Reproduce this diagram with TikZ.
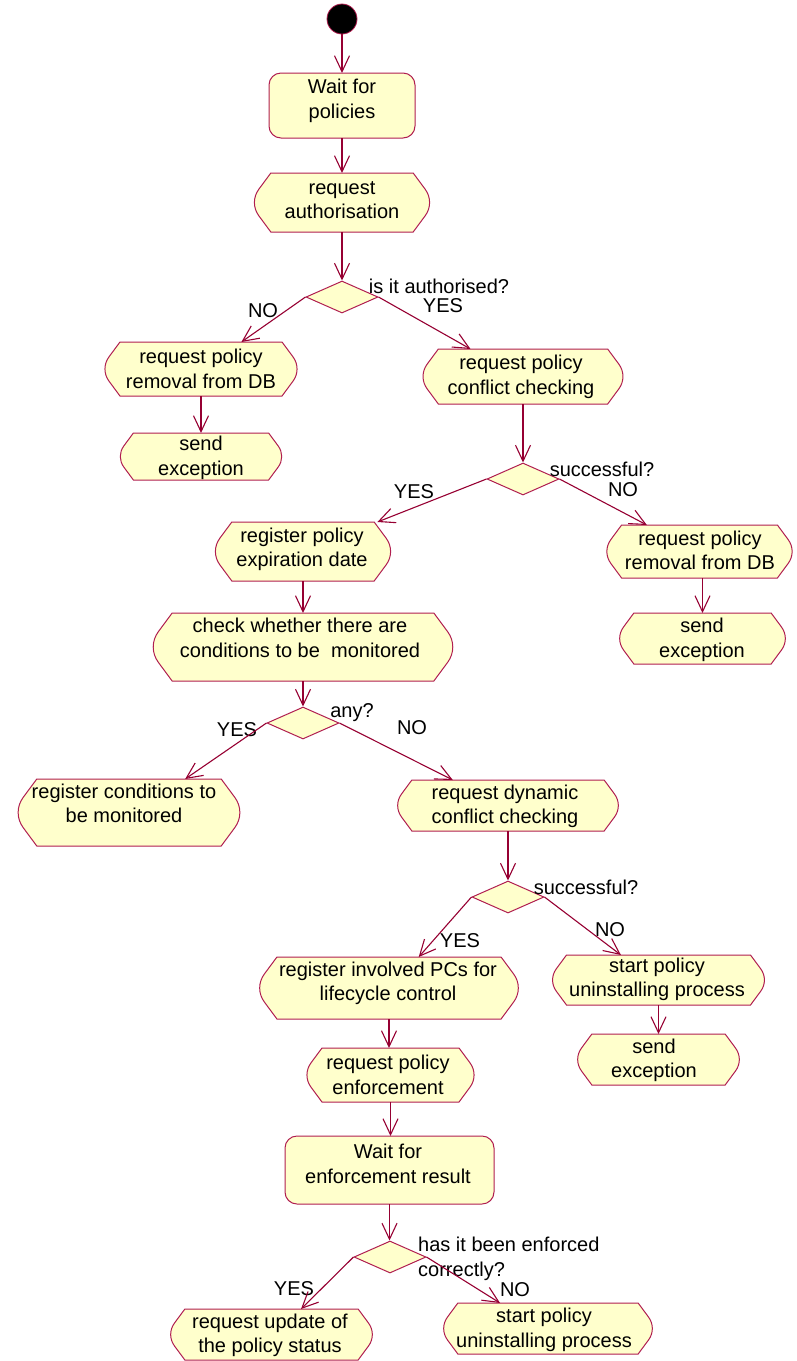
\documentclass[tikz,border=0pt]{standalone}
\usepackage{fontspec}
\setmainfont{Liberation Sans}
\usetikzlibrary{arrows.meta,shapes.geometric,calc}

\definecolor{actfill}{RGB}{255,255,204}
\definecolor{actline}{RGB}{176,30,80}
\definecolor{flowline}{RGB}{150,0,50}

\tikzset{
  actshape/.style={fill=actfill, draw=actline, line width=1pt},
  actarea/.style={rectangle, inner sep=0pt, outer sep=0pt, draw=none},
  acttext/.style={align=center, inner sep=0pt, font=\fontsize{20pt}{24.5pt}\selectfont},
  guard/.style={inner sep=0pt, font=\fontsize{20pt}{24.5pt}\selectfont},
  flow/.style={draw=flowline, line width=1.1pt, -{Straight Barb[length=16pt,width=15pt]}},
  decision/.style={diamond, fill=actfill, draw=actline, line width=1pt,
    minimum width=72pt, minimum height=32pt, inner sep=0pt},
  startnode/.style={circle, fill=black, draw=actline, line width=0.8pt,
    minimum size=30pt, inner sep=0pt}
}

% activity state: flat top and bottom, sides with a rounded point
% #1 name, #2 left, #3 top, #4 right, #5 bottom, #6 text x, #7 text y, #8 text
\newcommand\activity[8]{%
  \pgfmathsetmacro\actMid{(#3+#5)/2}%
  \pgfmathsetmacro\actIn{0.37*(#5-#3)}%
  \pgfmathsetmacro\actCx{(#2+#4)/2}%
  \coordinate (act-rt) at ($(#4,\actMid)!0.45!(#4-\actIn,#3)$);
  \coordinate (act-rb) at ($(#4,\actMid)!0.45!(#4-\actIn,#5)$);
  \coordinate (act-lb) at ($(#2,\actMid)!0.45!(#2+\actIn,#5)$);
  \coordinate (act-lt) at ($(#2,\actMid)!0.45!(#2+\actIn,#3)$);
  \path[actshape]
    (#2+\actIn,#3) -- (#4-\actIn,#3) -- (act-rt)
       .. controls ($(act-rt)!0.6!(#4,\actMid)$) and ($(act-rb)!0.6!(#4,\actMid)$) .. (act-rb)
    -- (#4-\actIn,#5) -- (#2+\actIn,#5) -- (act-lb)
       .. controls ($(act-lb)!0.6!(#2,\actMid)$) and ($(act-lt)!0.6!(#2,\actMid)$) .. (act-lt)
    -- cycle;
  \node[actarea, minimum width={(#4-#2)*1pt}, minimum height={(#5-#3)*1pt}] (#1) at (\actCx,\actMid) {};
  \node[acttext] at (#6,#7) {#8};
}

% waiting state: rounded rectangle
\newcommand\waitbox[8]{%
  \pgfmathsetmacro\actMid{(#3+#5)/2}%
  \pgfmathsetmacro\actCx{(#2+#4)/2}%
  \path[actshape, rounded corners=12pt] (#2,#3) rectangle (#4,#5);
  \node[actarea, minimum width={(#4-#2)*1pt}, minimum height={(#5-#3)*1pt}] (#1) at (\actCx,\actMid) {};
  \node[acttext] at (#6,#7) {#8};
}

\begin{document}
\begin{tikzpicture}[x=1pt, y=-1pt]
\useasboundingbox (0,0) rectangle (797,1361);

% states
\node[startnode] (start) at (342,19) {};
\waitbox{w1}{269}{73}{415}{138}{342}{101}{Wait for\\policies}
\activity{auth}{249}{173}{435}{232}{342}{200}{request\\authorisation}
\node[decision] (d1) at (342,297) {};
\activity{rem1}{100}{342}{302}{396}{201}{369}{request policy\\removal from DB}
\activity{send1}{116}{433}{286}{480}{201}{458}{send\\exception}
\activity{conf}{418}{349}{628}{404}{521}{377}{request policy\\conflict checking}
\node[decision] (d2) at (523,479) {};
\activity{regexp}{210}{522}{396}{581}{302}{549.5}{register policy\\expiration date}
\activity{rem2}{602}{525}{797}{578}{700}{550.5}{request policy\\removal from DB}
\activity{send2}{615}{613}{790}{664}{702}{640}{send\\exception}
\activity{check}{147}{613}{459}{681}{300}{638}{check whether there are\\conditions to be~ monitored}
\node[decision] (d3) at (303,723) {};
\activity{regcond}{12}{779}{246}{846}{124}{803.5}{register conditions to\\be monitored}
\activity{dyn}{393}{780}{623}{831}{505}{806.5}{request dynamic\\conflict checking}
\node[decision] (d4) at (508,897) {};
\activity{regpcs}{254}{957}{524}{1019}{388}{983.5}{register involved PCs for\\lifecycle control}
\activity{uninst1}{548}{955}{769}{1005}{657}{979.5}{start policy\\uninstalling process}
\activity{send3}{573}{1034}{744}{1085}{654}{1060.5}{send\\exception}
\activity{enf}{302}{1048}{479}{1102}{388}{1075}{request policy\\enforcement}
\waitbox{w2}{285}{1136}{494}{1204}{388}{1164}{Wait for\\enforcement result}
\node[decision] (d5) at (390,1257) {};
\activity{upd}{166}{1309}{377}{1360}{270}{1335.5}{request update of\\the policy status}
\activity{uninst2}{439}{1303}{657}{1354}{544}{1330}{start policy\\uninstalling process}

% guards
\node[guard] at (439,286) {is it authorised?};
\node[guard] at (443,306) {YES};
\node[guard] at (263,311) {NO};
\node[guard] at (602,469) {successful?};
\node[guard] at (414,492) {YES};
\node[guard] at (623,490) {NO};
\node[guard] at (352,713) {any?};
\node[guard] at (237,730) {YES};
\node[guard] at (412,728) {NO};
\node[guard] at (586,887) {successful?};
\node[guard] at (460,941) {YES};
\node[guard] at (610,930) {NO};
\node[guard, anchor=west, align=left] at (418,1259) {has it been enforced\\correctly?};
\node[guard] at (294,1289) {YES};
\node[guard] at (515,1290) {NO};

% transitions
\draw[flow] (start) -- (start |- w1.north);
\draw[flow] (w1) -- (w1 |- auth.north);
\draw[flow] (auth) -- (auth |- d1.north);
\draw[flow] (d1.west) -- ($(rem1.north west)!0.70!(rem1.north east)$);
\draw[flow] (d1.east) -- ($(conf.north west)!0.25!(conf.north east)$);
\draw[flow] (rem1) -- (rem1 |- send1.north);
\draw[flow] (conf) -- (conf |- d2.north);
\draw[flow] (d2.west) -- ($(regexp.north west)!0.90!(regexp.north east)$);
\draw[flow] (d2.east) -- ($(rem2.north west)!0.23!(rem2.north east)$);
\draw[flow] (send2.north |- rem2.south) -- (send2.north);
\draw[flow] (regexp) -- (regexp |- check.north);
\draw[flow] (check) -- (check |- d3.north);
\draw[flow] (d3.west) -- ($(regcond.north west)!0.74!(regcond.north east)$);
\draw[flow] (d3.east) -- ($(dyn.north west)!0.26!(dyn.north east)$);
\draw[flow] (dyn) -- (dyn |- d4.north);
\draw[flow] (d4.west) -- ($(regpcs.north west)!0.61!(regpcs.north east)$);
\draw[flow] (d4.east) -- ($(uninst1.north west)!0.33!(uninst1.north east)$);
\draw[flow] (uninst1) -- (uninst1 |- send3.north);
\draw[flow] (regpcs) -- (regpcs |- enf.north);
\draw[flow] (enf) -- (enf |- w2.north);
\draw[flow] (w2) -- (w2 |- d5.north);
\draw[flow] (d5.west) -- ($(upd.north west)!0.64!(upd.north east)$);
\draw[flow] (d5.east) -- ($(uninst2.north west)!0.28!(uninst2.north east)$);
\end{tikzpicture}
\end{document}
